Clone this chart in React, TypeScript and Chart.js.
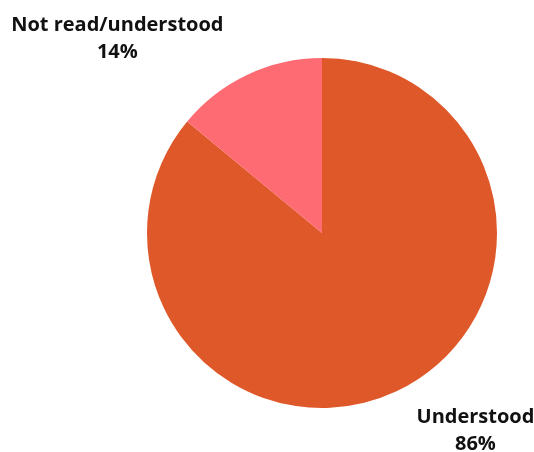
import React, { useEffect, useRef } from "react";
import { Chart, registerables } from "chart.js";

Chart.register(...registerables);

const categories = ["Understood", "Not read/understood"];
const values = [86, 14];
const colors = ["#DF5829", "#FF6B73"];

const labelPlugin = {
  id: "outerLabels",
  afterDraw(chart: any) {
    const ctx = chart.ctx;
    const meta = chart.getDatasetMeta(0);
    const data = chart.data.datasets[0].data as number[];
    const total = data.reduce((a: number, b: number) => a + b, 0);
    ctx.save();
    ctx.font = "bold 20px 'Open Sans'";
    ctx.fillStyle = "#111111";
    ctx.textBaseline = "middle";
    ctx.textAlign = "center";
    meta.data.forEach((arc: any, i: number) => {
      const mid = (arc.startAngle + arc.endAngle) / 2;
      const dx = Math.cos(mid);
      const dy = Math.sin(mid);
      const ax = arc.x + dx * arc.outerRadius;
      const ay = arc.y + dy * arc.outerRadius;
      const lines = [
        String(chart.data.labels[i]),
        Math.round((data[i] / total) * 100) + "%",
      ];
      const w = Math.max(...lines.map((l) => ctx.measureText(l).width));
      const cx = dx < 0 ? ax - 24 - w / 2 : ax + 20 + w / 2;
      const cy = dy < 0 ? ay - 36 : ay + 39;
      const lh = 27;
      lines.forEach((l, k) => {
        ctx.fillText(l, cx, cy + (k - (lines.length - 1) / 2) * lh);
      });
    });
    ctx.restore();
  },
};

export default function App() {
  const ref = useRef<HTMLCanvasElement>(null);
  useEffect(() => {
    if (!ref.current) return;
    const chart = new Chart(ref.current, {
      type: "pie",
      data: {
        labels: categories,
        datasets: [
          {
            data: values,
            backgroundColor: colors,
            borderWidth: 0,
          },
        ],
      },
      options: {
        animation: false,
        responsive: true,
        maintainAspectRatio: false,
        layout: { padding: { top: 58, bottom: 44, left: 147, right: 37 } },
        plugins: {
          legend: { display: false },
          tooltip: { enabled: false },
        },
      },
      plugins: [labelPlugin],
    });
    return () => chart.destroy();
  }, []);
  return (
    <div style={{ position: "fixed", left: 0, top: 0, width: 534, height: 452, background: "#fff" }}>
      <canvas ref={ref} />
    </div>
  );
}
